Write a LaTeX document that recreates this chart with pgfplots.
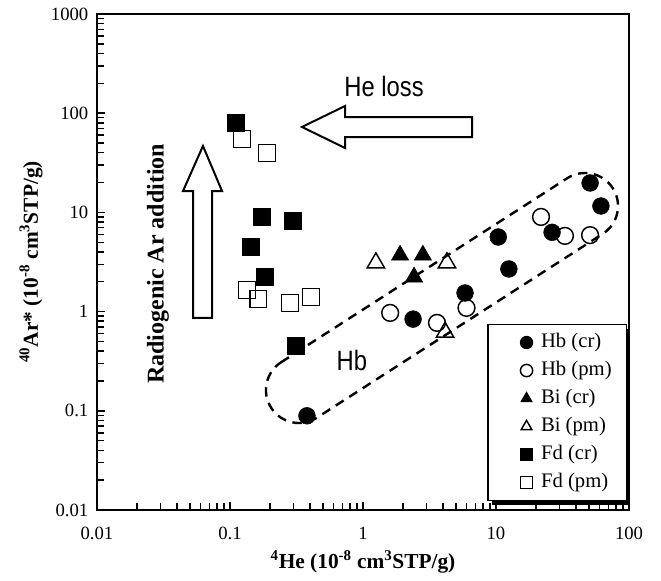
\documentclass[border=0pt]{standalone}
\usepackage{pgfplots}
\pgfplotsset{compat=1.18}
\usepackage{graphicx}
\usepackage{fontspec}
\setmainfont{Liberation Serif}
\newfontfamily\narrowsans{Liberation Sans}
\usetikzlibrary{calc,shadows}

\begin{document}
\begin{tikzpicture}
\begin{axis}[
  scale only axis, width=399pt, height=372pt,
  xmode=log, ymode=log,
  xmin=0.01, xmax=100, ymin=0.01, ymax=1000,
  axis line style={line width=1.5pt},
  xtick={0.01,0.1,1,10,100}, xticklabels={0.01,0.1,1,10,100},
  ytick={0.01,0.1,1,10,100,1000}, yticklabels={0.01,0.1,1,10,100,1000},
  minor xtick={0.02,0.03,0.04,0.05,0.06,0.07,0.08,0.09,0.2,0.3,0.4,0.5,0.6,0.7,0.8,0.9,2,3,4,5,6,7,8,9,20,30,40,50,60,70,80,90},
  minor ytick={0.02,0.03,0.04,0.05,0.06,0.07,0.08,0.09,0.2,0.3,0.4,0.5,0.6,0.7,0.8,0.9,2,3,4,5,6,7,8,9,20,30,40,50,60,70,80,90,200,300,400,500,600,700,800,900},
  tick align=inside, xtick pos=bottom, ytick pos=left,
  major tick length=6pt, minor tick length=5pt,
  every tick/.style={black, line width=1.1pt},
  tick label style={font=\fontsize{14}{16}\selectfont},
  xticklabel style={yshift=-9pt},
  yticklabel style={xshift=-3pt},
  xlabel={\textsuperscript{4}He (10\textsuperscript{-8} cm\textsuperscript{3}STP/g)},
  ylabel={\textsuperscript{40}Ar* (10\textsuperscript{-8} cm\textsuperscript{3}STP/g)},
  label style={font=\fontsize{16}{18}\selectfont\bfseries},
  xlabel style={at={(axis description cs:0.5,-0.105)}, anchor=center},
  ylabel style={at={(axis description cs:-0.124,0.5)}, anchor=center},
  legend style={at={(0.996,0.375)}, anchor=north east, font=\fontsize{15.5}{18}\selectfont,
    draw=black, line width=0.8pt, fill=white, row sep=2.5pt, inner xsep=9pt, inner ysep=4.25pt,
    nodes={inner sep=2pt, text height=11pt, text depth=3.5pt},
    drop shadow={shadow xshift=3pt, shadow yshift=-3pt, fill=black, opacity=1}},
  legend cell align=left,
  legend image code/.code={\path (0pt,0pt) (28pt,0pt); \draw[#1] plot coordinates {(19.5pt,0pt)};},
  legend image post style={mark size=4.6pt},
]
% Hb envelope
\draw[line width=1.8pt, dash pattern=on 7pt off 5pt]
  let \p1=(axis cs:0.33,0.162), \p2=(axis cs:46.7,11.6),
      \n1={atan2(\y2-\y1,\x2-\x1)}
  in ($(\p1)+(\n1+90:24.75pt)$) -- ($(\p2)+(\n1+90:24.75pt)$)
     arc[start angle=\n1+90, end angle=\n1-90, radius=24.75pt]
     -- ($(\p1)+(\n1-90:24.75pt)$)
     arc[start angle=\n1-90, end angle=\n1-270, radius=24.75pt] -- cycle;
% He loss arrow
\draw[line width=1.5pt, fill=white] (rel axis cs:0.3853,0.7722) -- (rel axis cs:0.4662,0.8145)
  -- (rel axis cs:0.4662,0.7923) -- (rel axis cs:0.7049,0.7923) -- (rel axis cs:0.7049,0.7520)
  -- (rel axis cs:0.4662,0.7520) -- (rel axis cs:0.4662,0.7298) -- cycle;
% Radiogenic Ar arrow
\draw[line width=1.5pt, fill=white] (rel axis cs:0.1992,0.7339) -- (rel axis cs:0.2350,0.6431)
  -- (rel axis cs:0.2162,0.6431) -- (rel axis cs:0.2162,0.3871) -- (rel axis cs:0.1805,0.3871)
  -- (rel axis cs:0.1805,0.6431) -- (rel axis cs:0.1617,0.6431) -- cycle;
\node[font=\fontsize{21}{24}\selectfont\narrowsans] at (rel axis cs:0.5395,0.853) {\scalebox{0.85}[1]{He loss}};
\node[font=\fontsize{21}{24}\selectfont\narrowsans] at (rel axis cs:0.479,0.302) {\scalebox{0.85}[1]{Hb}};
\node[font=\fontsize{18}{20}\selectfont\bfseries, rotate=90] at (rel axis cs:0.1147,0.496) {Radiogenic Ar addition};

\addplot[only marks, mark=*, mark size=6.3pt, mark options={fill=black, draw=black}] coordinates {
(0.379,0.089) (2.38,0.84) (5.85,1.54) (10.4,5.65) (12.5,2.69) (26.4,6.3) (51,19.8) (61.5,11.6)};
\addlegendentry{Hb (cr)}
\addplot[only marks, mark=o, mark size=6.3pt, mark options={draw=black, line width=1.1pt}] coordinates {
(1.60,0.97) (3.6,0.77) (6.0,1.09) (21.8,9.0) (33,5.8) (51,5.9)};
\addlegendentry{Hb (pm)}
\addplot[only marks, mark=triangle*, mark size=7.5pt, mark options={fill=black, draw=black}] coordinates {
(1.90,3.7) (2.82,3.7) (2.42,2.23)};
\addlegendentry{Bi (cr)}
\addplot[only marks, mark=triangle, mark size=7.5pt, mark options={draw=black, line width=1.1pt}] coordinates {
(1.25,3.1) (4.28,3.1) (4.14,0.62)};
\addlegendentry{Bi (pm)}
\addplot[only marks, mark=square*, mark size=6.3pt, mark options={fill=black, draw=black}] coordinates {
(0.111,80) (0.174,9.0) (0.298,8.2) (0.144,4.5) (0.183,2.23) (0.313,0.45)};
\addlegendentry{Fd (cr)}
\addplot[only marks, mark=square, mark size=6.3pt, mark options={draw=black, line width=1.1pt}] coordinates {
(0.123,55) (0.190,39.7) (0.134,1.65) (0.163,1.34) (0.282,1.22) (0.406,1.40)};
\addlegendentry{Fd (pm)}
\end{axis}
\pgfresetboundingbox
\path[use as bounding box] ($(current axis.south west)+(-72.75pt,-53.25pt)$) rectangle ($(current axis.north east)+(24pt,10.5pt)$);
\end{tikzpicture}
\end{document}
